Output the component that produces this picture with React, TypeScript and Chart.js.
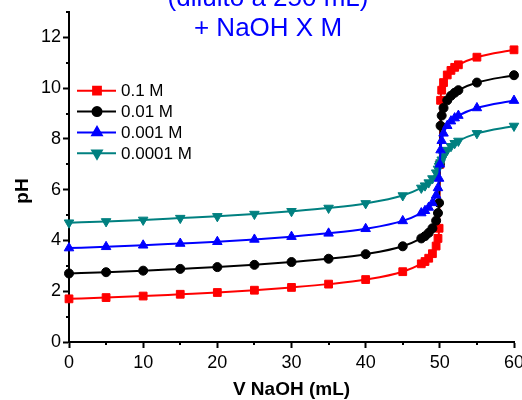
import React, { useEffect, useRef } from 'react';
import { Chart, registerables } from 'chart.js';
import { drawPoint } from 'chart.js/helpers';

Chart.register(...registerables);

const titleLines = ['(diluito a 250 mL)', '+ NaOH X M'];
const xTitle = 'V NaOH (mL)';
const yTitle = 'pH';
const xTicks = [0, 10, 20, 30, 40, 50, 60];
const yTicks = [0, 2, 4, 6, 8, 10, 12];
const xMinor = [5, 15, 25, 35, 45, 55];
const yMinor = [1, 3, 5, 7, 9, 11, 13];

const volumes = [0, 5, 10, 15, 20, 25, 30, 35, 40, 45, 47.5, 48, 48.5, 49, 49.5, 49.75, 49.9, 50, 50.1, 50.25, 50.5, 51, 51.5, 52, 52.5, 55, 60];
const ph01 = [1.70, 1.75, 1.81, 1.88, 1.95, 2.04, 2.15, 2.28, 2.46, 2.77, 3.08, 3.17, 3.30, 3.48, 3.78, 4.08, 4.48, 7.00, 9.52, 9.92, 10.22, 10.52, 10.70, 10.82, 10.92, 11.22, 11.51];
const ph001 = [2.70, 2.75, 2.81, 2.88, 2.95, 3.04, 3.15, 3.28, 3.46, 3.77, 4.08, 4.17, 4.30, 4.48, 4.78, 5.08, 5.48, 7.00, 8.52, 8.92, 9.22, 9.52, 9.70, 9.82, 9.92, 10.22, 10.51];
const ph0001 = [3.70, 3.75, 3.81, 3.88, 3.95, 4.04, 4.15, 4.28, 4.46, 4.77, 5.08, 5.17, 5.30, 5.48, 5.78, 6.07, 6.44, 7.00, 7.56, 7.93, 8.22, 8.52, 8.70, 8.82, 8.92, 9.22, 9.51];
const ph00001 = [4.70, 4.75, 4.81, 4.88, 4.95, 5.04, 5.15, 5.28, 5.46, 5.77, 6.07, 6.16, 6.28, 6.44, 6.67, 6.82, 6.93, 7.00, 7.07, 7.18, 7.33, 7.56, 7.71, 7.83, 7.92, 8.22, 8.51];

const seriesLabels = ['0.1 M', '0.01 M', '0.001 M', '0.0001 M'];
const seriesValues = [ph01, ph001, ph0001, ph00001];
const seriesColors = ['#ff0000', '#000000', '#0000ff', '#008080'];
const seriesStyles = ['rect', 'circle', 'triangle', 'triangle'];
const seriesRotation = [0, 0, 0, 180];
const seriesRadius = [5.5, 4.5, 5.5, 5.5];
const seriesOrder = [3, 2, 0, 1];

const FONT = "'Liberation Sans', Arial, sans-serif";

const decorPlugin = {
  id: 'decor',
  afterDraw(chart: any) {
    const ctx = chart.ctx;
    const xs = chart.scales.x;
    const ys = chart.scales.y;
    const area = chart.chartArea;
    ctx.save();
    // minor ticks
    ctx.strokeStyle = '#000';
    ctx.lineWidth = 2;
    ctx.beginPath();
    xMinor.forEach((v) => {
      const px = Math.round(xs.getPixelForValue(v));
      ctx.moveTo(px, area.bottom);
      ctx.lineTo(px, area.bottom + 3);
    });
    yMinor.forEach((v) => {
      const py = Math.round(ys.getPixelForValue(v));
      ctx.moveTo(area.left - 3, py);
      ctx.lineTo(area.left, py);
    });
    ctx.stroke();

    // title
    ctx.fillStyle = '#0000ff';
    ctx.font = `26px ${FONT}`;
    ctx.textAlign = 'center';
    ctx.textBaseline = 'alphabetic';
    ctx.fillText(titleLines[0], 268, 6);
    ctx.fillText(titleLines[1], 268, 36);

    // axis titles
    ctx.fillStyle = '#000';
    ctx.font = `bold 19px ${FONT}`;
    ctx.fillText(xTitle, (area.left + area.right) / 2, 395);
    ctx.save();
    ctx.translate(28, 191);
    ctx.rotate(-Math.PI / 2);
    ctx.fillText(yTitle, 0, 0);
    ctx.restore();

    // legend
    const lx0 = 77;
    const lx1 = 116;
    const mx = 97;
    const ty = 90.7;
    const dy = 20.85;
    ctx.font = `17px ${FONT}`;
    ctx.textAlign = 'left';
    ctx.textBaseline = 'middle';
    seriesLabels.forEach((label, i) => {
      const y = ty + i * dy;
      ctx.strokeStyle = seriesColors[i];
      ctx.lineWidth = 2;
      ctx.beginPath();
      ctx.moveTo(lx0, y);
      ctx.lineTo(lx1, y);
      ctx.stroke();
      ctx.fillStyle = seriesColors[i];
      ctx.strokeStyle = seriesColors[i];
      drawPoint(ctx, { pointStyle: seriesStyles[i], rotation: seriesRotation[i], radius: seriesRadius[i], borderWidth: 1 } as any, mx, y);
      ctx.fillStyle = '#000';
      ctx.fillText(label, 121, y + 1);
    });
    ctx.restore();
  },
};

export default function App() {
  const ref = useRef<HTMLCanvasElement>(null);
  useEffect(() => {
    document.body.style.margin = '0';
    const canvas = ref.current!;
    const datasets = seriesLabels.map((label, i) => ({
      label,
      order: seriesOrder[i],
      data: volumes.map((v, j) => ({ x: v, y: seriesValues[i][j] })),
      borderColor: seriesColors[i],
      backgroundColor: seriesColors[i],
      pointBackgroundColor: seriesColors[i],
      pointBorderColor: seriesColors[i],
      pointStyle: seriesStyles[i],
      pointRotation: seriesRotation[i],
      pointRadius: seriesRadius[i],
      pointBorderWidth: 1,
      borderWidth: 2,
      tension: 0.4,
      cubicInterpolationMode: 'monotone',
      clip: false,
    }));
    const chart = new Chart(canvas, {
      type: 'line',
      data: { datasets } as any,
      plugins: [decorPlugin],
      options: {
        animation: false,
        responsive: false,
        devicePixelRatio: 1,
        layout: { padding: { top: 12, right: 8, left: 0, bottom: 0 } },
        plugins: { legend: { display: false }, tooltip: { enabled: false }, title: { display: false } },
        scales: {
          x: {
            type: 'linear',
            min: 0,
            max: 60,
            afterBuildTicks: (s: any) => { s.ticks = xTicks.map((v) => ({ value: v })); },
            afterFit: (s: any) => { s.height = 58; s.paddingLeft = 0; s.paddingRight = 0; },
            ticks: { font: { size: 18, family: FONT }, color: '#000', padding: 4, maxRotation: 0, autoSkip: false },
            grid: { drawOnChartArea: false, drawTicks: true, tickLength: 6, tickColor: '#000', tickWidth: 2 },
            border: { display: true, color: '#000', width: 2 },
          },
          y: {
            type: 'linear',
            min: 0,
            max: 13,
            afterBuildTicks: (s: any) => { s.ticks = yTicks.map((v) => ({ value: v })); },
            afterFit: (s: any) => { s.width = 69; s.paddingTop = 0; s.paddingBottom = 0; },
            ticks: { font: { size: 18, family: FONT }, color: '#000', padding: 2, autoSkip: false },
            grid: { drawOnChartArea: false, drawTicks: true, tickLength: 6, tickColor: '#000', tickWidth: 2 },
            border: { display: true, color: '#000', width: 2 },
          },
        },
      } as any,
    });
    return () => chart.destroy();
  }, []);
  return <canvas ref={ref} width={522} height={400} style={{ display: 'block' }} />;
}
